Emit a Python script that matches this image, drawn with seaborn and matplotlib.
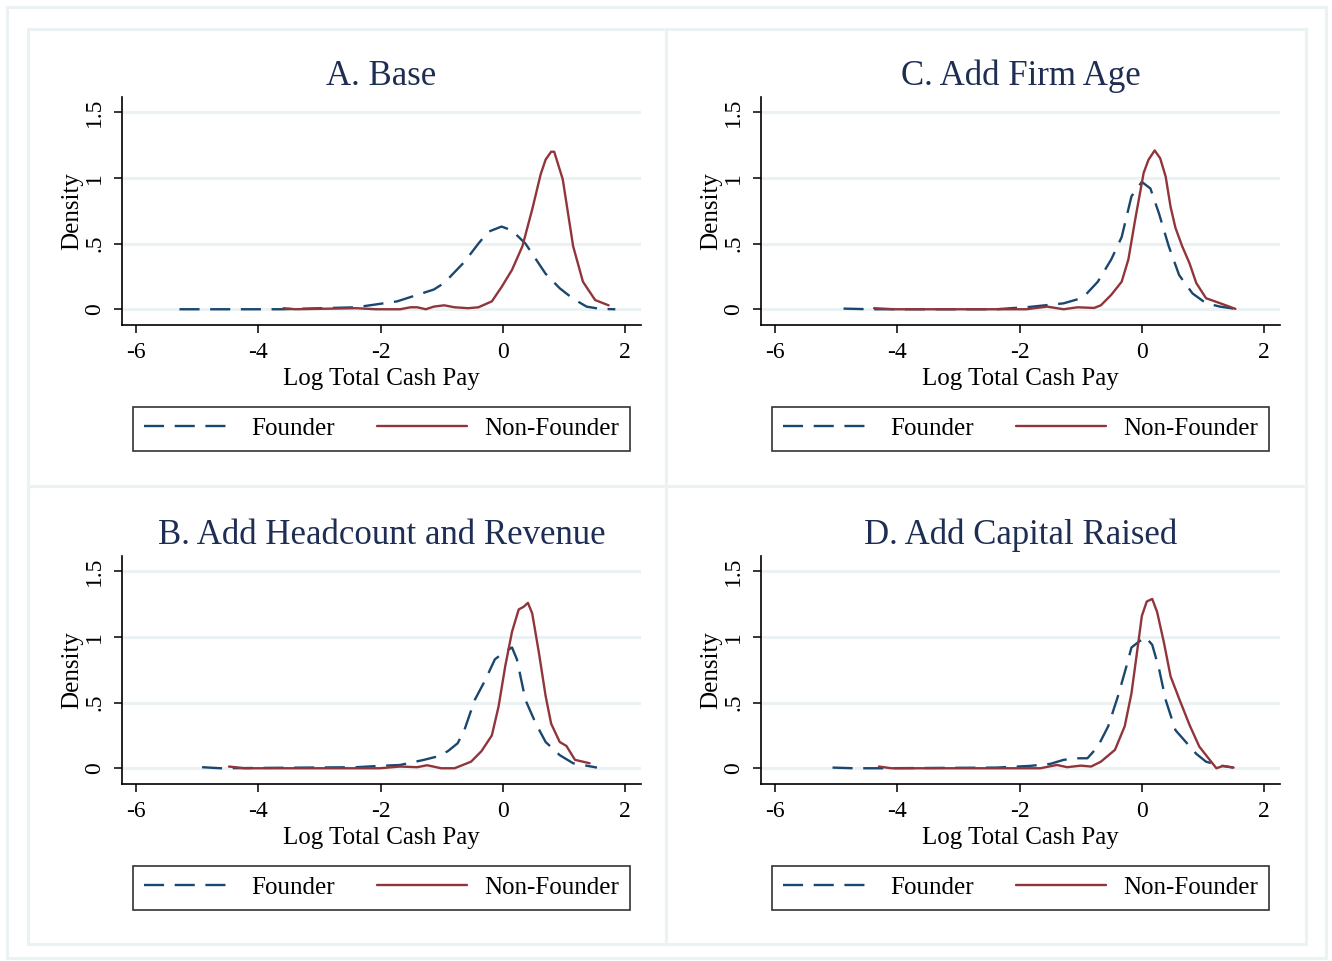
import numpy as np
import matplotlib
matplotlib.use("Agg")
import matplotlib.pyplot as plt
import seaborn as sns
import pandas as pd
from matplotlib.patches import Rectangle
from matplotlib.lines import Line2D

sns.set_style("white")
plt.rcParams["font.family"] = ["Liberation Serif", "DejaVu Serif"]
plt.rcParams["text.color"] = "black"
plt.rcParams["axes.labelcolor"] = "black"
plt.rcParams["xtick.color"] = "black"
plt.rcParams["ytick.color"] = "black"

# Panel A. Base
a_f_x = [-5.29, -3.62, -2.40, -1.73, -1.13, -0.96, -0.63, -0.40, -0.24, -0.02, 0.15, 0.37, 0.70, 0.93, 1.15, 1.37, 1.59, 1.84]
a_f_y = [0.0, 0.0, 0.015, 0.06, 0.15, 0.20, 0.36, 0.50, 0.59, 0.63, 0.60, 0.50, 0.27, 0.16, 0.08, 0.02, 0.003, 0.0]
a_n_x = [-3.59, -3.40, -2.40, -2.07, -1.68, -1.51, -1.40, -1.26, -1.13, -0.96, -0.79, -0.57, -0.40, -0.18, -0.02, 0.15, 0.32, 0.48, 0.62, 0.70, 0.79, 0.84, 0.98, 1.15, 1.31, 1.51, 1.73]
a_n_y = [0.008, 0.0, 0.008, 0.0, 0.0, 0.015, 0.015, 0.0, 0.02, 0.03, 0.015, 0.008, 0.015, 0.06, 0.17, 0.30, 0.48, 0.76, 1.03, 1.14, 1.20, 1.20, 0.99, 0.48, 0.21, 0.07, 0.03]

# Panel C. Add Firm Age
c_f_x = [-4.88, -4.44, -2.38, -1.83, -1.28, -1.05, -0.94, -0.72, -0.50, -0.33, -0.17, 0.0, 0.14, 0.28, 0.44, 0.61, 0.83, 1.05, 1.28, 1.53]
c_f_y = [0.005, 0.0, 0.0, 0.018, 0.045, 0.076, 0.10, 0.21, 0.38, 0.55, 0.86, 0.97, 0.92, 0.73, 0.48, 0.26, 0.12, 0.046, 0.02, 0.003]
c_n_x = [-4.38, -4.05, -2.38, -1.89, -1.55, -1.28, -1.05, -0.78, -0.67, -0.50, -0.33, -0.22, -0.11, 0.03, 0.11, 0.21, 0.30, 0.39, 0.47, 0.55, 0.66, 0.78, 0.89, 1.05, 1.28, 1.53]
c_n_y = [0.008, 0.0, 0.0, 0.0, 0.02, 0.0, 0.015, 0.01, 0.03, 0.11, 0.21, 0.38, 0.68, 1.04, 1.14, 1.21, 1.15, 1.01, 0.78, 0.62, 0.48, 0.35, 0.20, 0.084, 0.046, 0.003]

# Panel B. Add Headcount and Revenue
b_f_x = [-4.92, -4.62, -2.40, -2.01, -1.68, -1.29, -1.07, -0.90, -0.74, -0.63, -0.46, -0.29, -0.13, 0.04, 0.15, 0.23, 0.37, 0.54, 0.70, 0.93, 1.15, 1.54]
b_f_y = [0.008, 0.0, 0.008, 0.018, 0.025, 0.064, 0.09, 0.13, 0.19, 0.29, 0.52, 0.67, 0.83, 0.89, 0.92, 0.83, 0.52, 0.34, 0.20, 0.10, 0.038, 0.005]
b_n_x = [-4.48, -4.23, -2.01, -1.68, -1.40, -1.24, -1.01, -0.79, -0.52, -0.35, -0.18, -0.07, 0.04, 0.15, 0.26, 0.34, 0.41, 0.48, 0.59, 0.70, 0.79, 0.93, 1.04, 1.18, 1.42]
b_n_y = [0.013, 0.0, 0.0, 0.013, 0.008, 0.023, 0.0, 0.0, 0.05, 0.13, 0.25, 0.47, 0.78, 1.04, 1.21, 1.23, 1.26, 1.18, 0.88, 0.55, 0.34, 0.20, 0.17, 0.064, 0.038]

# Panel D. Add Capital Raised
d_f_x = [-5.06, -4.71, -4.27, -2.38, -1.83, -1.50, -1.28, -1.05, -0.89, -0.72, -0.55, -0.39, -0.25, -0.17, -0.06, 0.06, 0.17, 0.28, 0.39, 0.55, 0.72, 0.89, 1.05, 1.28, 1.50]
d_f_y = [0.005, 0.0, 0.0, 0.005, 0.018, 0.033, 0.064, 0.076, 0.076, 0.165, 0.32, 0.55, 0.78, 0.92, 0.96, 1.0, 0.94, 0.76, 0.52, 0.29, 0.20, 0.11, 0.05, 0.02, 0.005]
d_n_x = [-4.30, -4.10, -2.38, -1.66, -1.39, -1.22, -1.00, -0.83, -0.67, -0.44, -0.28, -0.17, -0.08, 0.0, 0.08, 0.17, 0.25, 0.36, 0.47, 0.61, 0.78, 0.94, 1.11, 1.22, 1.33, 1.50]
d_n_y = [0.013, 0.0, 0.0, 0.0, 0.025, 0.008, 0.02, 0.013, 0.05, 0.14, 0.32, 0.57, 0.88, 1.16, 1.27, 1.29, 1.19, 0.96, 0.70, 0.53, 0.33, 0.165, 0.064, 0.0, 0.018, 0.005]

titles = ["A. Base", "C. Add Firm Age", "B. Add Headcount and Revenue", "D. Add Capital Raised"]
series = [(a_f_x, a_f_y, a_n_x, a_n_y), (c_f_x, c_f_y, c_n_x, c_n_y),
          (b_f_x, b_f_y, b_n_x, b_n_y), (d_f_x, d_f_y, d_n_x, d_n_y)]
xticks = [-6, -4, -2, 0, 2]
yticks = [0, 0.5, 1, 1.5]
ytick_labels = ["0", ".5", "1", "1.5"]

navy = "#1a476f"
maroon = "#90353b"
grid_c = "#eaf2f3"
title_c = "#1e2d53"

W, H = 1332, 961
fig = plt.figure(figsize=(W / 100, H / 100), dpi=100)

# frames (pixels)
def px_rect(x0, y0, x1, y1, lw=2.2):
    fig.patches.append(Rectangle((x0 / W, 1 - y1 / H), (x1 - x0) / W, (y1 - y0) / H,
                                 transform=fig.transFigure, fill=False, edgecolor=grid_c, lw=lw))

px_rect(7, 7, 1326, 958)
px_rect(28, 29, 665.5, 486)
px_rect(665.5, 29, 1306, 486)
px_rect(28, 486, 665.5, 944)
px_rect(665.5, 486, 1306, 944)

# axes positions in pixels: left, top
origins = [(122, 97), (761, 97), (122, 556), (761, 556)]
aw, ah = 519, 228

for i, (ox, oy) in enumerate(origins):
    ax = fig.add_axes([ox / W, 1 - (oy + ah) / H, aw / W, ah / H])
    fx, fy, nx, ny = series[i]
    df = pd.DataFrame({"x": fx + nx, "y": fy + ny,
                       "group": ["Founder"] * len(fx) + ["Non-Founder"] * len(nx)})
    for y in yticks:
        ax.axhline(y, color=grid_c, lw=2.2, zorder=0)
    sns.lineplot(data=df[df.group == "Founder"], x="x", y="y", ax=ax, color=navy,
                 lw=1.7, linestyle=(0, (8.5, 4.5)), estimator=None, legend=False)
    sns.lineplot(data=df[df.group == "Non-Founder"], x="x", y="y", ax=ax, color=maroon,
                 lw=1.7, estimator=None, legend=False)
    ax.set_xlim(-6.23, 2.26)
    ax.set_ylim(-0.12, 1.617)
    ax.set_xticks(xticks)
    ax.set_xticklabels([str(t) for t in xticks], fontsize=17)
    ax.set_yticks(yticks)
    ax.set_yticklabels(ytick_labels, fontsize=17, rotation=90, va="center")
    ax.tick_params(axis="both", direction="out", length=6, width=1.1, color="black",
                   left=True, bottom=True)
    ax.tick_params(axis="y", pad=6)
    ax.tick_params(axis="x", pad=6)
    for s in ["top", "right"]:
        ax.spines[s].set_visible(False)
    for s in ["left", "bottom"]:
        ax.spines[s].set_color("black")
        ax.spines[s].set_linewidth(1.2)
    ax.set_xlabel("Log Total Cash Pay", fontsize=18, labelpad=4)
    ax.set_ylabel("Density", fontsize=18, labelpad=1)
    ax.set_title(titles[i], fontsize=25, color=title_c, pad=9)
    handles = [Line2D([], [], color=navy, lw=1.7, linestyle=(0, (8.5, 4.5))),
               Line2D([], [], color=maroon, lw=1.7)]
    leg = ax.legend(handles, ["Founder", "Non-Founder"], loc="upper center",
                    bbox_to_anchor=(0.5, -0.36), ncol=2, fontsize=18, frameon=True,
                    fancybox=False, edgecolor="black", handlelength=3.6, handletextpad=0.7,
                    columnspacing=1.7, borderaxespad=0, borderpad=0.42)
    leg.get_frame().set_linewidth(1.2)

fig.savefig("out.png", dpi=100, facecolor="white")
